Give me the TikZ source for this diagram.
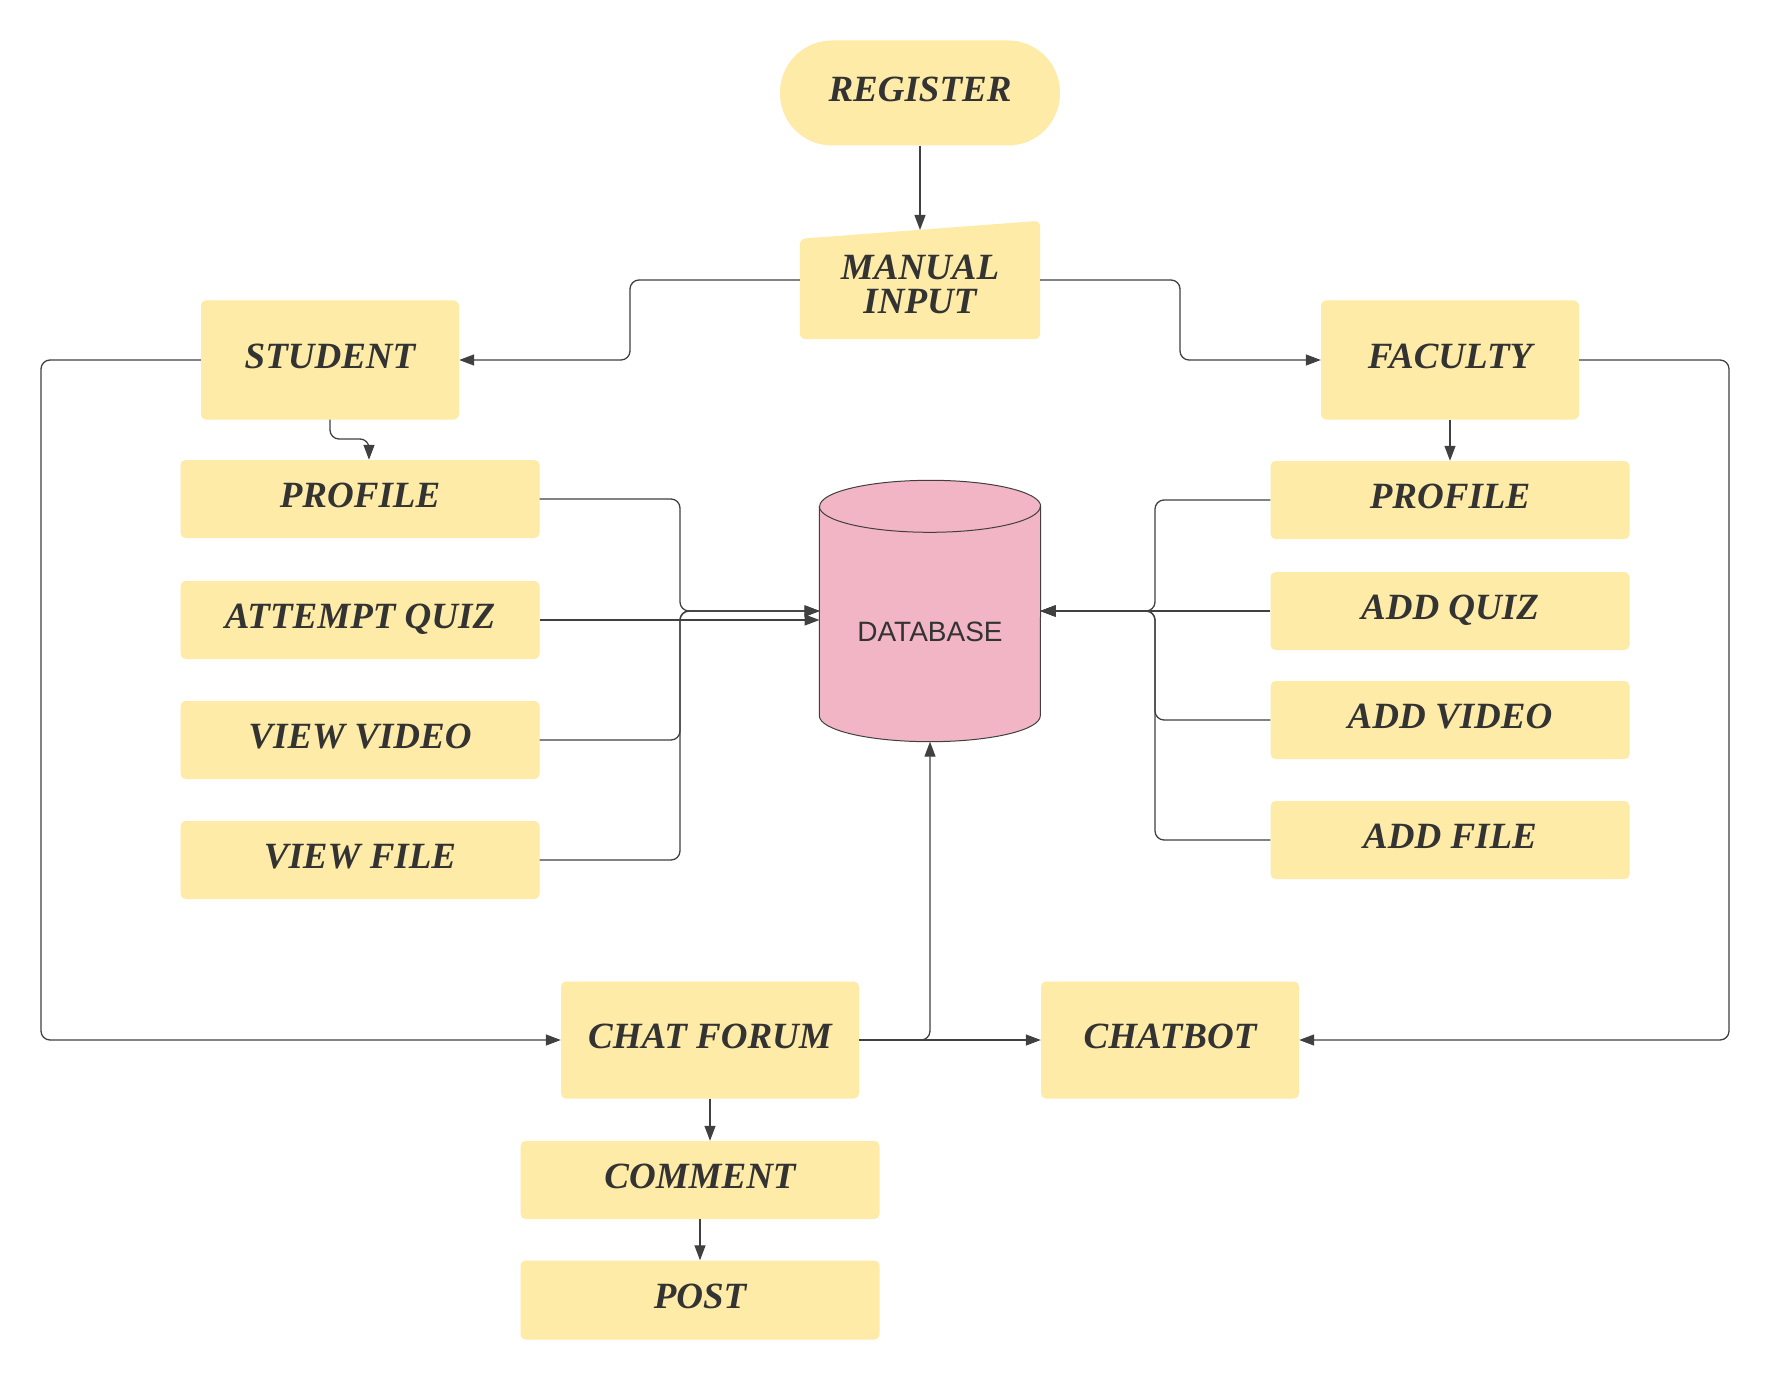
\documentclass[tikz,border=0pt]{standalone}
\usepackage{fontspec}
\setmainfont{Liberation Serif}
\setsansfont{Liberation Sans}
\usetikzlibrary{arrows.meta}
\definecolor{boxfill}{RGB}{253,235,167}
\definecolor{dbfill}{RGB}{242,181,197}
\definecolor{ink}{RGB}{51,51,51}
\definecolor{wire}{RGB}{64,64,64}
\begin{document}
\begin{tikzpicture}[x=1pt,y=-1pt,
  box/.style={rectangle, rounded corners=5pt, fill=boxfill, text=ink, inner sep=0pt, align=center,
    text depth=7pt, font=\fontsize{37}{34}\selectfont\bfseries\itshape},
  boxtext/.style={text=ink, inner sep=0pt, align=center, font=\fontsize{37}{34}\selectfont\bfseries\itshape},
  wide/.style={minimum width=359pt, minimum height=78pt},
  mid/.style={minimum width=258pt, minimum height=119pt},
  conn/.style={draw=wire, line width=1.3pt, rounded corners=9pt},
  arr/.style={conn, -{Triangle[length=15pt,width=11pt]}},
]
\fill[white] (0,0) rectangle (1770,1380);
\useasboundingbox (0,0) rectangle (1770,1380);

% top
\node[box, minimum width=280pt, minimum height=105pt, rounded corners=52pt] (reg) at (920,93) {REGISTER};
\node[minimum width=240pt, minimum height=118pt, inner sep=0pt] (mi) at (920,280) {};
\fill[boxfill, rounded corners=6pt] (mi.south west) -- ([yshift=-18pt]mi.north west) -- (mi.north east) -- (mi.south east) -- cycle;
\node[boxtext] (mitxt) at (920,284) {MANUAL\\INPUT};
\coordinate (mitop) at (920,230);

\node[box, mid] (stu) at (330,360) {STUDENT};
\node[box, mid] (fac) at (1450,360) {FACULTY};

% left column
\node[box, wide] (lp) at (360,499) {PROFILE};
\node[box, wide] (la) at (360,620) {ATTEMPT QUIZ};
\node[box, wide] (lv) at (360,740) {VIEW VIDEO};
\node[box, wide] (lf) at (360,860) {VIEW FILE};

% right column
\node[box, wide] (rp) at (1450,500) {PROFILE};
\node[box, wide] (rq) at (1450,611) {ADD QUIZ};
\node[box, wide] (ra) at (1450,720) {ADD VIDEO};
\node[box, wide] (rf) at (1450,840) {ADD FILE};

% database
\node[minimum width=221pt, minimum height=261pt, inner sep=0pt] (db) at (930,611) {};
\filldraw[fill=dbfill, draw=wire, line width=1pt]
  ([yshift=-26pt]db.north west) -- ([yshift=26pt]db.south west)
  arc[start angle=180, end angle=360, x radius=110.5pt, y radius=26pt]
  -- ([yshift=-26pt]db.north east)
  arc[start angle=0, end angle=180, x radius=110.5pt, y radius=26pt] -- cycle;
\draw[draw=wire, line width=1pt] ([yshift=-26pt]db.north west)
  arc[start angle=180, end angle=360, x radius=110.5pt, y radius=26pt];
\node[font=\sffamily\fontsize{28}{30}\selectfont, text=ink, inner sep=0pt] (dbt) at (930,632) {DATABASE};

% bottom
\node[box, minimum width=298pt, minimum height=117pt] (cf) at (710,1040) {CHAT FORUM};
\node[box, minimum width=258pt, minimum height=117pt] (cb) at (1170,1040) {CHATBOT};
\node[box, wide] (cm) at (700,1180) {COMMENT};
\node[box, wide, minimum height=79pt] (po) at (700,1300) {POST};

% junction coordinates
\coordinate (dbl1) at (819.5,611);
\coordinate (dbl2) at (819.5,620);
\coordinate (dbr) at (1040.5,611);
\coordinate (jl) at (680,611);
\coordinate (jr) at (1155,611);
\coordinate (ja) at (630,360);
\coordinate (jb) at (1180,360);
\coordinate (jc) at (41,1040);
\coordinate (jd) at (1729,1040);
\coordinate (je) at (369,439);

% connectors
\draw[arr] (reg.south) -- (mitop);
\draw[arr] (mi.west) -| (ja) -- (stu.east);
\draw[arr] (mi.east) -| (jb) -- (fac.west);
\draw[arr] (stu.south) |- (je) -- (je |- lp.north);
\draw[arr] (fac.south) -- (rp.north);

\draw[arr] (lp.east) -| (jl) -- (dbl1);
\draw[arr] (la.east) -- (dbl2);
\draw[arr] (lv.east) -| (jl) -- (dbl1);
\draw[arr] (lf.east) -| (jl) -- (dbl1);

\draw[arr] (rp.west) -| (jr) -- (dbr);
\draw[arr] (rq.west) -- (dbr);
\draw[arr] (ra.west) -| (jr) -- (dbr);
\draw[arr] (rf.west) -| (jr) -- (dbr);

\draw[arr] (stu.west) -| (jc) -- (cf.west);
\draw[arr] (fac.east) -| (jd) -- (cb.east);
\draw[arr] (cf.east) -- (cb.west);
\draw[arr] (cf.east) -| (db.south);
\draw[arr] (cf.south) -- (cf.south |- cm.north);
\draw[arr] (cm.south) -- (po.north);
\end{tikzpicture}
\end{document}
